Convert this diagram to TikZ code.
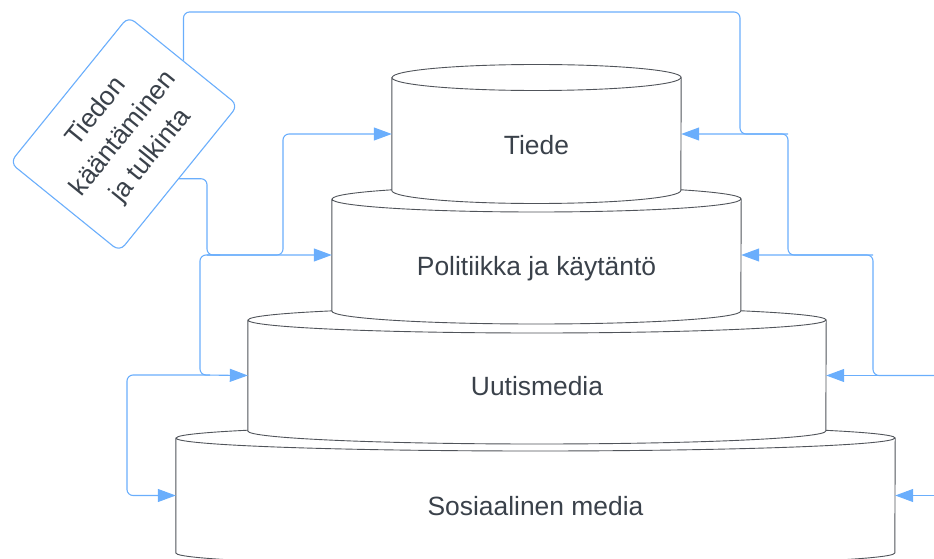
\documentclass[tikz,border=0pt]{standalone}
\usepackage{fontspec}
\setmainfont{Liberation Sans}
\usepackage{tikz}
\usetikzlibrary{arrows.meta, positioning, backgrounds}

\definecolor{linkblue}{RGB}{106,174,252}
\definecolor{inkgray}{RGB}{58,65,74}
\definecolor{edgegray}{RGB}{80,84,90}

\newcommand{\tierfont}{\fontsize{26.4}{35}\selectfont}

% cylinder outline round a tier node: node, x radius, half height
\newcommand{\drum}[3]{%
  \draw[drumline] ([yshift=#3]#1.west) -- ([yshift=-#3]#1.west)
    arc[start angle=180, end angle=360, x radius=#2, y radius=13pt]
    -- ([yshift=#3]#1.east)
    arc[start angle=0, end angle=180, x radius=#2, y radius=13pt] -- cycle
    ([yshift=#3]#1.west) arc[start angle=180, end angle=360, x radius=#2, y radius=13pt];
}

\tikzset{
  tier/.style={inner sep=0pt, text height=40pt, text depth=0pt, text=inkgray, font=\tierfont},
  drumline/.style={draw=edgegray, line width=0.9pt, fill=white},
  infobox/.style={draw=linkblue, line width=1.1pt, rounded corners=8pt, fill=white,
    align=center, text=inkgray, font=\tierfont, minimum width=188pt, minimum height=141pt},
  link/.style={draw=linkblue, line width=1.1pt, rounded corners=6pt},
  flow/.style={link, -{Triangle[length=18pt,width=13pt]}}
}

\begin{document}
\begin{tikzpicture}[x=1pt, y=-1pt]
\useasboundingbox (0,0) rectangle (934,559);

  \node[tier, minimum width=289pt] (tiede) at (536.5,134) {Tiede};
  \node[tier, minimum width=409pt] (politiikka) at (536.5,255) {Politiikka ja käytäntö};
  \node[tier, minimum width=578pt] (uutismedia) at (537,375.5) {Uutismedia};
  \node[tier, minimum width=719pt] (sosiaalinen) at (535.5,495.5) {Sosiaalinen media};

  \node[infobox, rotate=51] (tulkinta) at (124,134) {Tiedon\\kääntäminen\\ja tulkinta};

  \begin{pgfonlayer}{background}
    \drum{sosiaalinen}{359.5pt}{57.5pt}
    \drum{uutismedia}{289pt}{55.5pt}
    \drum{politiikka}{204.5pt}{56pt}
    \drum{tiede}{144.5pt}{56.5pt}
  \end{pgfonlayer}

  % left side
  \coordinate (vasen1) at (220,255);
  \coordinate (vasen2) at (210,375);
  \draw[flow] (tulkinta.south) -| (207,255) -- (politiikka.west);
  \draw[flow] (207,255) -- (283,255) |- (tiede.west);
  \draw[flow] (vasen1) -| (200,375) -- (uutismedia.west);
  \draw[flow] (vasen2) -| (127,495.5) -- (sosiaalinen.west);

  % right side
  \coordinate (oikea1) at (934,375.5);
  \coordinate (oikea2) at (934,495.5);
  \draw[flow] (oikea1) -- (uutismedia.east);
  \draw[flow] (oikea1) -| (873,255) -- (politiikka.east);
  \draw[flow] (873,255) -| (788,134) -- (tiede.east);
  \draw[link] (788,134) -| (740,12) -| (tulkinta.east);
  \draw[flow] (oikea2) -- (sosiaalinen.east);
\end{tikzpicture}
\end{document}
